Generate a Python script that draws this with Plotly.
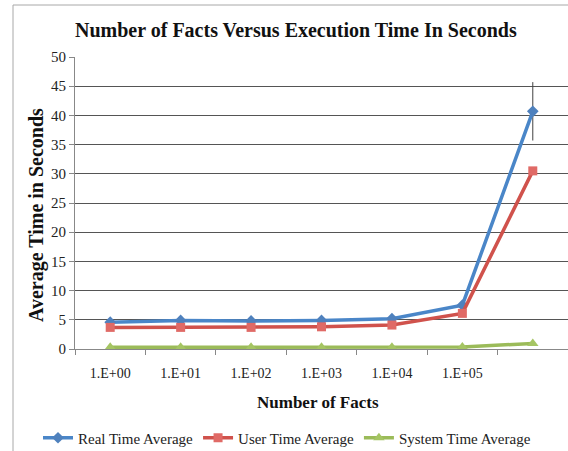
import plotly.graph_objects as go

categories = ["1.E+00", "1.E+01", "1.E+02", "1.E+03", "1.E+04", "1.E+05", "1.E+06"]
tick_labels = ["1.E+00", "1.E+01", "1.E+02", "1.E+03", "1.E+04", "1.E+05", ""]
real_time = [4.6, 4.9, 4.8, 4.9, 5.2, 7.5, 40.7]
real_err = [0, 0, 0, 0, 0, 0, 5.0]
user_time = [3.7, 3.7, 3.7, 3.8, 4.1, 6.1, 30.5]
system_time = [0.3, 0.3, 0.3, 0.3, 0.3, 0.35, 0.95]

serif = "Liberation Serif, Times New Roman, serif"

fig = go.Figure()
fig.add_trace(go.Scatter(
    x=categories, y=real_time, name="Real Time Average", mode="lines+markers",
    line=dict(color="#4A86C8", width=3.5),
    marker=dict(symbol="diamond", size=9, color="#4F81BD"),
    error_y=dict(type="data", array=real_err, visible=True, color="#404040", thickness=1, width=0),
))
fig.add_trace(go.Scatter(
    x=categories, y=user_time, name="User Time Average", mode="lines+markers",
    line=dict(color="#D0524C", width=3.5),
    marker=dict(symbol="square", size=9, color="#E06A66"),
))
fig.add_trace(go.Scatter(
    x=categories, y=system_time, name="System Time Average", mode="lines+markers",
    line=dict(color="#9BBB59", width=3.5),
    marker=dict(symbol="triangle-up", size=10, color="#A5C563"),
))

L, R, T, B = 75, 0, 57, 102
W, H = 568, 451
pw = W - L - R
ph = H - T - B

def px(x):
    return (x - L) / pw

def py(y):
    return (H - B - y) / ph

fig.update_layout(
    width=W, height=H, autosize=False,
    margin=dict(l=L, r=R, t=T, b=B, autoexpand=False),
    paper_bgcolor="white", plot_bgcolor="white",
    font=dict(family=serif, size=14, color="#222222"),
    showlegend=True,
    legend=dict(orientation="h", x=px(287), xanchor="center", y=py(438), yanchor="middle",
                font=dict(family=serif, size=15, color="#222222"), itemwidth=30,
                traceorder="normal"),
    xaxis=dict(
        type="category", categoryorder="array", categoryarray=categories,
        tickvals=categories, ticktext=tick_labels,
        range=[-0.5, 6.5], tickson="boundaries", automargin=False,
        showgrid=False, showline=True, linecolor="#888888", linewidth=1,
        ticks="outside", ticklen=5, tickcolor="#888888",
        tickfont=dict(family=serif, size=14, color="#222222"),
        ticklabelstandoff=11,
    ),
    yaxis=dict(
        range=[0, 50], dtick=5, showgrid=True, gridcolor="#555555", gridwidth=1,
        showline=True, linecolor="#888888", linewidth=1, automargin=False,
        ticks="outside", ticklen=5, tickcolor="#888888",
        tickfont=dict(family=serif, size=15, color="#222222"),
        zeroline=False,
    ),
    annotations=[
        dict(text="<b>Number of Facts Versus Execution Time In Seconds</b>", xref="paper", yref="paper",
             x=px(296), y=py(30), xanchor="center", yanchor="middle", showarrow=False,
             font=dict(family=serif, size=20, color="#111111")),
        dict(text="<b>Number of Facts</b>", xref="paper", yref="paper",
             x=px(318), y=py(402), xanchor="center", yanchor="middle", showarrow=False,
             font=dict(family=serif, size=17, color="#111111")),
        dict(text="<b>Average Time in Seconds</b>", xref="paper", yref="paper",
             x=px(37), y=py(215), xanchor="center", yanchor="middle", showarrow=False,
             textangle=-90, font=dict(family=serif, size=20, color="#111111")),
    ],
    shapes=[
        dict(type="line", xref="paper", yref="paper", x0=px(13), x1=px(13), y0=py(460), y1=py(5),
             line=dict(color="#A8A8A8", width=1), layer="above"),
        dict(type="line", xref="paper", yref="paper", x0=px(13), x1=px(580), y0=py(5), y1=py(5),
             line=dict(color="#A8A8A8", width=1), layer="above"),
    ],
)

fig.write_html("out.html", config={"displayModeBar": False},
               post_script="document.body.style.margin='0';document.body.style.overflow='hidden';")
